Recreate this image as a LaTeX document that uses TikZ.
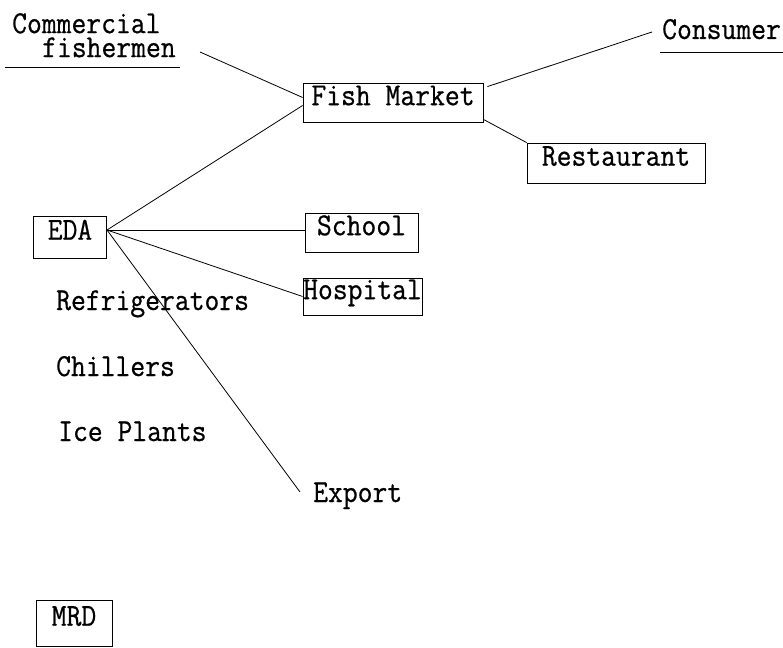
\documentclass[tikz,border=0pt]{standalone}
\usepackage{fontspec}
\newfontfamily\dgfont{Latin Modern Mono}[FakeStretch=0.9,FakeBold=0.6]
\begin{document}
\begin{tikzpicture}[x=1pt,y=-1pt,
  every node/.style={font=\fontsize{32}{34}\selectfont\dgfont, inner sep=0pt,
    text height=0.62em, text depth=0.08em},
  boxed/.style={draw, line width=0.8pt},
  label/.style={anchor=base west},
  conn/.style={line width=0.8pt}]
\useasboundingbox (0,0) rectangle (783,647);
% text labels
\node[anchor=north west, align=left, text height={}, text depth={},
  font=\fontsize{32}{24}\selectfont\dgfont] (cf) at (12,13)
  {Commercial\\\hspace*{30pt}fishermen};
\node[label] (cons) at (662,39) {Consumer};
\node[label] (ref) at (56,310) {Refrigerators};
\node[label] (chil) at (56,376) {Chillers};
\node[label] (ice) at (58,441) {Ice Plants};
\node[label] (exp) at (313,502) {Export};
% boxes
\node[boxed, minimum width=180, minimum height=39] (fm) at (393,102.5) {Fish Market};
\node[boxed, minimum width=178, minimum height=40] (rest) at (616,163) {Restaurant};
\node[boxed, minimum width=73, minimum height=42] (eda) at (70,237) {EDA};
\node[boxed, minimum width=113, minimum height=39] (school) at (361.5,232.5) {School};
\node[boxed, minimum width=119, minimum height=37] (hosp) at (362.5,296.5) {Hospital};
\node[boxed, minimum width=76, minimum height=46] (mrd) at (74,623) {MRD};
% free ends
\coordinate (cfend) at (200,52);
\coordinate (consend) at (652,32);
\coordinate (expend) at (300,492);
\coordinate (edapt) at (107,230);
% underlines
\coordinate (ul1a) at (5,67);
\coordinate (ul1b) at (180,67);
\coordinate (ul2a) at (660,52);
\coordinate (ul2b) at (783,52);
\draw[conn] (ul1a) -- (ul1b);
\draw[conn] (ul2a) -- (ul2b);
% connectors
\draw[conn] (cfend) -- ([yshift=5pt]fm.west);
\draw[conn] (edapt) -- ([yshift=-3pt]fm.west);
\draw[conn] ([xshift=4pt,yshift=-4pt]fm.north east) -- (consend);
\draw[conn] ([yshift=3pt]fm.south east) -- (rest.north west);
\draw[conn] (edapt) -- (school.west |- edapt);
\draw[conn] (edapt) -- (hosp.west);
\draw[conn] (edapt) -- (expend);
\end{tikzpicture}
\end{document}
